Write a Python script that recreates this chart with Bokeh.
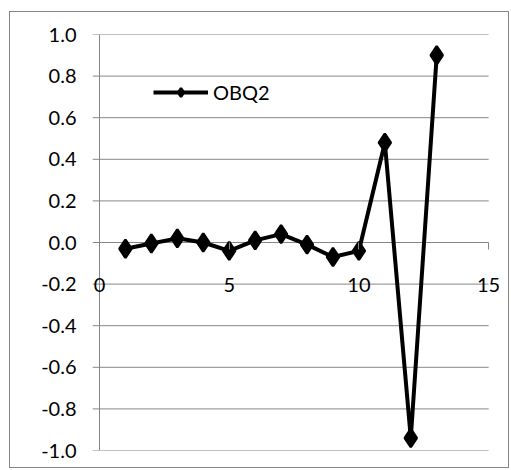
from bokeh.plotting import figure
from bokeh.models import (LinearAxis, FixedTicker, NumeralTickFormatter, Range1d, Legend,
                          LegendItem)
from bokeh.embed import file_html
from bokeh.resources import INLINE

x_vals = [1, 2, 3, 4, 5, 6, 7, 8, 9, 10, 11, 12, 13]
obq2 = [-0.03, -0.005, 0.02, 0.0, -0.04, 0.01, 0.04, -0.01, -0.07, -0.04, 0.48, -0.94, 0.90]
series_name = "OBQ2"
x_ticks = [0, 5, 10, 15]
y_ticks = [-1.0, -0.8, -0.6, -0.4, -0.2, 0.0, 0.2, 0.4, 0.6, 0.8, 1.0]

FONT = "Lato"
GRAY = "#868686"

# frame is a little wider than the 0..15 data span so the x tick labels at the
# ends are not clipped; the gridlines and the y axis line are drawn from 0 to 15.
p = figure(width=498, height=455, output_backend="svg", toolbar_location=None,
           x_range=Range1d(-0.27, 15.42), y_range=Range1d(y_ticks[0], y_ticks[-1]),
           x_axis_location=None, y_axis_location=None,
           min_border_left=82, min_border_right=9, min_border_top=22, min_border_bottom=17)
p.styles = {"margin-left": "10px", "margin-top": "12px",
            "outline": f"1px solid {GRAY}", "box-shadow": f"-1px -1px 0 0 {GRAY}"}
p.outline_line_color = None
p.background_fill_color = "white"
p.xgrid.grid_line_color = None
p.ygrid.grid_line_color = None

yaxis = LinearAxis(ticker=FixedTicker(ticks=y_ticks), formatter=NumeralTickFormatter(format="0.0"))
yaxis.axis_line_color = None
yaxis.major_tick_line_color = None
yaxis.major_tick_out = 0
yaxis.major_tick_in = 0
yaxis.minor_tick_line_color = None
yaxis.major_label_text_font = FONT
yaxis.major_label_text_font_size = "20px"
yaxis.major_label_text_color = "black"
yaxis.major_label_standoff = 16
p.add_layout(yaxis, "left")

# horizontal gridlines (they also form the short outward y ticks at the left)
n = len(y_ticks)
p.segment(x0=[p.x_range.start] * n, y0=y_ticks, x1=[x_ticks[-1]] * n, y1=y_ticks,
          line_color=GRAY, line_width=1)
# vertical y-axis line at x = 0
p.segment(x0=[x_ticks[0]], y0=[y_ticks[0]], x1=[x_ticks[0]], y1=[y_ticks[-1]],
          line_color=GRAY, line_width=1)

xaxis = LinearAxis(ticker=FixedTicker(ticks=x_ticks), fixed_location=0)
xaxis.axis_line_color = None
xaxis.major_tick_line_color = GRAY
xaxis.major_tick_out = 7
xaxis.major_tick_in = 0
xaxis.minor_tick_line_color = None
xaxis.major_label_text_font = FONT
xaxis.major_label_text_font_size = "20px"
xaxis.major_label_text_color = "black"
xaxis.major_label_standoff = 28
p.add_layout(xaxis, "below")

ln = p.line(x_vals, obq2, line_color="black", line_width=4)
sc = p.scatter(x_vals, obq2, marker="diamond", size=18, line_width=2.5,
               fill_color="black", line_color="black")

legend = Legend(items=[LegendItem(label=series_name, renderers=[ln, sc])],
                location=(61, 346), padding=0, margin=0, spacing=0,
                glyph_width=55, glyph_height=22, label_standoff=5,
                label_text_font=FONT, label_text_font_size="20px", label_text_color="black",
                background_fill_alpha=0, border_line_color=None)
p.add_layout(legend, "center")

open("out.html", "w").write(file_html(p, INLINE))
